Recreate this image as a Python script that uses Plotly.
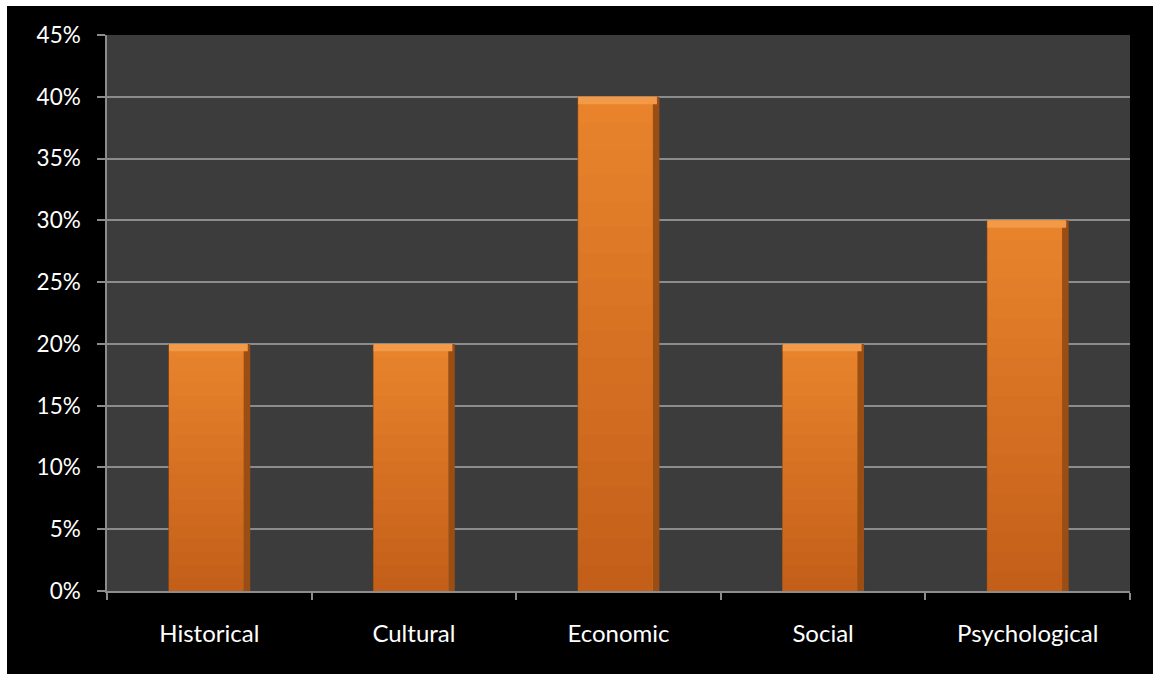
import plotly.graph_objects as go

categories = ["Historical", "Cultural", "Economic", "Social", "Psychological"]
values = [0.20, 0.20, 0.40, 0.20, 0.30]
y_ticks = [0, 0.05, 0.10, 0.15, 0.20, 0.25, 0.30, 0.35, 0.40, 0.45]

# page: 6px white strip on top, 7px on the left, figure fills the rest
W, H = 1146, 668
L, R, T, B = 100, 23, 29, 83

fig = go.Figure()
# outer bar: dark bevel edge
fig.add_trace(go.Bar(
    x=categories, y=values, width=0.4,
    marker=dict(color="#9A4E14", line=dict(width=0)),
    hoverinfo="x+y",
))
# inner face of the bar
fig.add_trace(go.Bar(
    x=categories, y=values, width=0.365, offset=-0.197,
    marker=dict(color="#E8832C", line=dict(width=0)),
    hoverinfo="skip",
))
# gentle darkening toward the bottom of each bar
n_shade = 18
for k in range(1, n_shade + 1):
    frac = k / (n_shade + 1)
    fig.add_trace(go.Bar(
        x=categories, y=[v * frac for v in values],
        width=0.365, offset=-0.197,
        marker=dict(color="rgba(60,20,0,0.012)", line=dict(width=0)),
        hoverinfo="skip",
    ))
# light top bevel
top_h = 0.006
fig.add_trace(go.Bar(
    x=categories, y=[top_h] * len(values), base=[v - top_h for v in values],
    width=0.385, offset=-0.197,
    marker=dict(color="#F29A48", line=dict(width=0)),
    hoverinfo="skip",
))

xfont = dict(family="Lato, Open Sans, sans-serif", size=24, color="white")
yfont = dict(family="Lato, Open Sans, sans-serif", size=22.5, color="white")
grid = "#8C8C8C"

fig.update_layout(
    width=W, height=H,
    margin=dict(l=L, r=R, t=T, b=B),
    paper_bgcolor="black",
    plot_bgcolor="#3C3C3C",
    showlegend=False,
    font=xfont,
    barmode="overlay",
)
fig.update_xaxes(
    type="category", tickson="boundaries", ticks="outside", ticklen=7,
    tickcolor=grid, tickwidth=1.5, showline=True, linecolor=grid, linewidth=1.5,
    showgrid=False, tickfont=xfont, ticklabelstandoff=20,
)
fig.update_yaxes(
    range=[0, 0.45], tickvals=y_ticks, tickformat=".0%",
    ticks="outside", ticklen=8, tickcolor=grid, tickwidth=1.5,
    showline=True, linecolor=grid, linewidth=1.5,
    showgrid=True, gridcolor=grid, gridwidth=1.5, zeroline=False,
    tickfont=yfont, ticklabelstandoff=12,
)

page_js = (
    "var h=document.documentElement;"
    "h.style.overflow='hidden';h.style.background='black';"
    "var b=document.body;b.style.margin='0';b.style.background='black';"
    "b.style.borderTop='6px solid white';b.style.borderLeft='7px solid white';"
)
fig.write_html("out.html", post_script=page_js)
